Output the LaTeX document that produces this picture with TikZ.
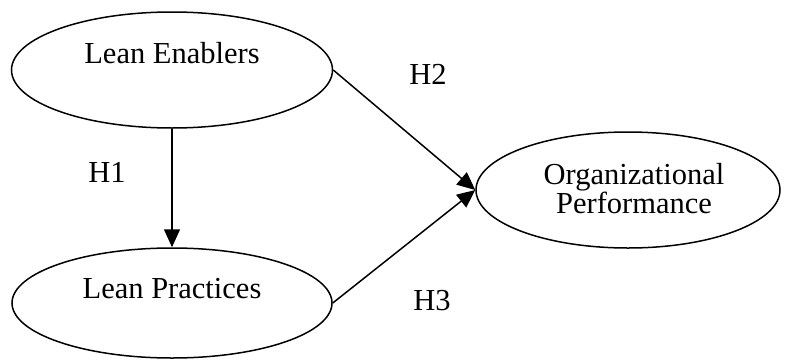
\documentclass[tikz,border=0pt]{standalone}
\usepackage{fontspec}
\setmainfont{Liberation Serif}
\usetikzlibrary{shapes.geometric,arrows.meta}
\begin{document}
\begin{tikzpicture}[x=1pt,y=-1pt,
  oval/.style={draw=black,line width=1.5pt,ellipse,inner sep=0pt},
  lbl/.style={font=\fontsize{30.5}{30.5}\selectfont,inner sep=0pt,anchor=center},
  conn/.style={draw=black,line width=1.5pt,-{Triangle[width=16pt,length=18pt]}}]
\useasboundingbox (0,0) rectangle (786,359);
\node[oval,minimum width=321pt,minimum height=116pt] (le) at (172,70) {};
\node[oval,minimum width=320pt,minimum height=110pt] (lp) at (172,303) {};
\node[oval,minimum width=304pt,minimum height=116pt] (org) at (628,190) {};
\node[lbl] (tle) at (172,53) {\vphantom{L}Lean Enablers};
\node[lbl] (tlp) at (172,289) {\vphantom{L}Lean Practices};
\node[lbl,align=center,font=\fontsize{30.5}{27}\selectfont] (torg) at (634,189) {Organizational\\Performance};
\node[lbl] (h1) at (107,172) {\vphantom{L}H1};
\node[lbl] (h2) at (428,74) {\vphantom{L}H2};
\node[lbl] (h3) at (432,301) {\vphantom{L}H3};
\draw[conn] (le.east) -- (org.west);
\draw[conn] (lp.east) -- (org.west);
\draw[conn] (le.south) -- (lp.north);
\end{tikzpicture}
\end{document}
